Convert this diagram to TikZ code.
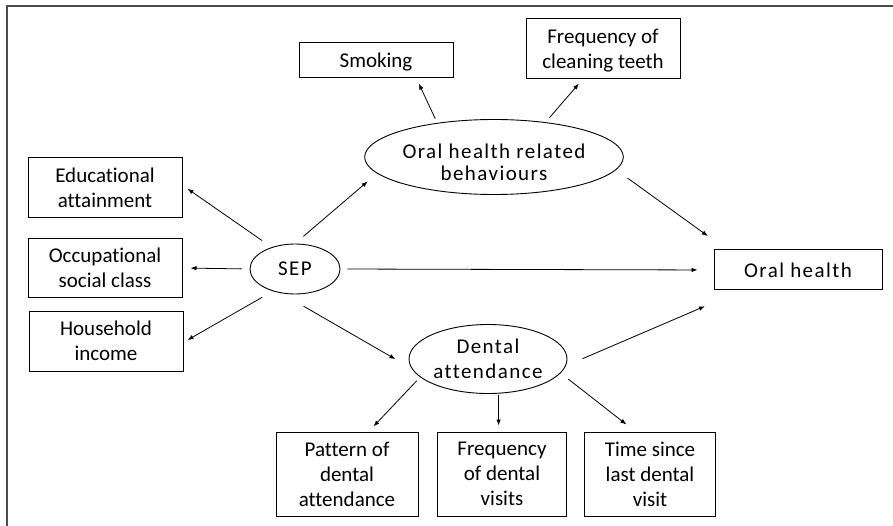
\documentclass[tikz,border=0pt]{standalone}
\usepackage{fontspec}
\setmainfont[Ligatures=NoCommon]{Carlito}
\newfontfamily\widefont[Ligatures=NoCommon,LetterSpace=6.8]{Carlito}
\usetikzlibrary{shapes.geometric,arrows.meta}

\begin{document}
\begin{tikzpicture}[x=1pt,y=-1pt,
		box/.style={draw, line width=1pt, inner sep=0pt, align=center,
			font=\fontsize{21}{25}\selectfont},
		oval/.style={draw, ellipse, line width=0.9pt, inner sep=0pt, align=center,
			font=\widefont\fontsize{21}{25}\selectfont},
		arr/.style={-{Latex[length=6pt,width=4.5pt]}, line width=0.8pt},
		frame/.style={line width=1.2pt, black!70}]
			\useasboundingbox (0,0) rectangle (893,526);

			% frame
			\draw [frame] (7,526) -- (7,6) -- (893,6);

			% boxes on top
			\node [box, minimum width=154pt, minimum height=35pt, text depth=0pt] (smoke) at (376,60.5) {Smoking};
			\node [box, minimum width=154pt, minimum height=60pt, text depth=0pt] (clean) at (603,49) {Frequency of\\cleaning teeth};

			% boxes on the left
			\node [box, minimum width=154pt, minimum height=60pt] (edu) at (105,188) {Educational\\attainment};
			\node [box, minimum width=154pt, minimum height=59pt] (occ) at (105,268) {Occupational\\social class};
			\node [box, minimum width=154pt, minimum height=60pt] (inc) at (106,341) {Household\\income};

			% boxes at the bottom
			\node [box, minimum width=142pt, minimum height=84pt] (pat) at (347,474) {Pattern of\\dental\\attendance};
			\node [box, minimum width=129pt, minimum height=84pt] (freq) at (502,474) {Frequency\\of dental\\visits};
			\node [box, minimum width=131pt, minimum height=84pt] (time) at (650,474) {Time since\\last dental\\visit};

			% outcome
			\node [box, minimum width=168pt, minimum height=40pt, font=\widefont\fontsize{21}{25}\selectfont] (oral) at (798,270) {Oral health};

			% ellipses
			\node [oval, minimum width=90pt, minimum height=50pt] (sep) at (295,269) {SEP};
			\node [oval, minimum width=238pt, minimum height=75pt, font=\widefont\fontsize{21}{22.5}\selectfont] (ohrb) at (494,157) {\rule{0pt}{25pt}Oral health related\\behaviours};
			\node [oval, minimum width=158pt, minimum height=69pt] (dent) at (488,359) {Dental\\attendance};

			% arrows from SEP
			\draw [arr, shorten <=11.6pt, shorten >=6.1pt] (sep.137.7) -- (edu.2.6);
			\draw [arr, shorten <=8pt, shorten >=8pt] (sep.west) -- (occ.east);
			\draw [arr, shorten <=12.2pt, shorten >=4.6pt] (sep.225.8) -- (inc.-1);
			\draw [arr, shorten <=11pt, shorten >=12.3pt] (sep.north) -- (ohrb.188);
			\draw [arr, shorten <=7pt, shorten >=16pt] (sep.east) -- (oral.west);
			\draw [arr, shorten <=26pt, shorten >=18.5pt] (sep.240.9) -- (dent.187);

			% arrows from behaviours
			\draw [arr, shorten <=4.6pt, shorten >=5.6pt] (ohrb.149) -- (smoke.-24);
			\draw [arr, shorten <=5.8pt, shorten >=5.4pt] (ohrb.34.5) -- (clean.-124);
			\draw [arr, shorten <=14pt, shorten >=23pt] (ohrb.-6.2) -- (oral.164.4);

			% arrows from attendance
			\draw [arr, shorten <=18pt, shorten >=40pt] (dent.-5.3) -- (oral.200.2);
			\draw [arr, shorten <=5pt, shorten >=7pt] (dent.195.3) -- (pat.63.3);
			\draw [arr, shorten <=1pt, shorten >=6pt] (dent.-73.9) -- (dent.-73.9 |- freq.north);
			\draw [arr, shorten <=9.7pt, shorten >=11.4pt] (dent.-11) -- (time.109.7);

		\end{tikzpicture}
\end{document}
